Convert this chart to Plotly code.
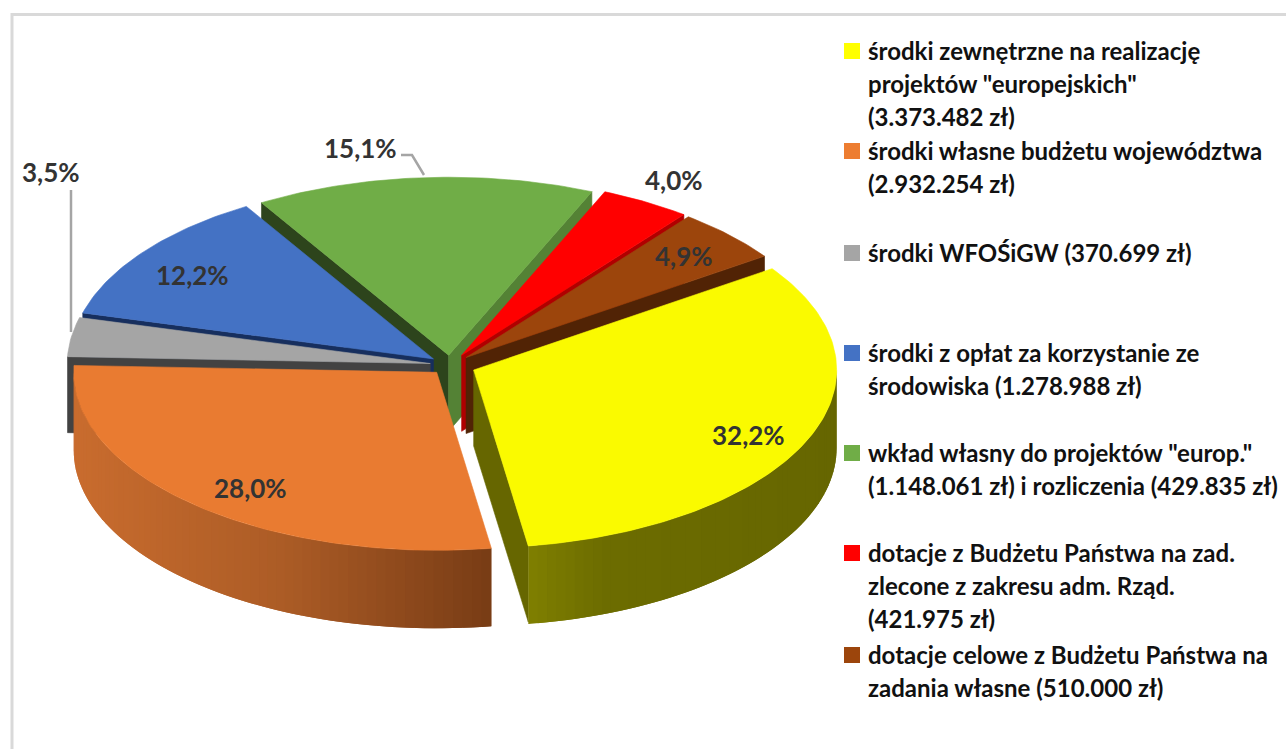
import math
import plotly.graph_objects as go

# ---- data ----
categories = ["środki zewnętrzne", "środki własne budżetu", "środki WFOŚiGW", "środki z opłat",
              "wkład własny i rozliczenia", "dotacje zlecone", "dotacje celowe"]
amounts = [3373482, 2932254, 370699, 1278988, 1577896, 421975, 510000]
pct_labels = ["32,2%", "28,0%", "3,5%", "12,2%", "15,1%", "4,0%", "4,9%"]
legend_lines = [
    ["środki zewnętrzne na realizację", "projektów \"europejskich\"", "(3.373.482 zł)"],
    ["środki własne budżetu województwa", "(2.932.254 zł)"],
    ["środki WFOŚiGW (370.699 zł)"],
    ["środki z opłat za korzystanie ze", "środowiska (1.278.988 zł)"],
    ["wkład własny do projektów \"europ.\"", "(1.148.061 zł) i rozliczenia (429.835 zł)"],
    ["dotacje z Budżetu Państwa na zad.", "zlecone z zakresu adm. Rząd.", "(421.975 zł)"],
    ["dotacje celowe z Budżetu Państwa na", "zadania własne (510.000 zł)"],
]

# ---- styling and layout ----
explode = [0.071, 0.055, 0.055, 0.057, 0.055, 0.063, 0.061]
top_colors = ["#FAFA00", "#E97B31", "#A5A5A5", "#4472C4", "#70AD47", "#FF0000", "#9C450C"]
key_colors = ["#FFFF00", "#ED7D31", "#A5A5A5", "#4472C4", "#70AD47", "#FF0000", "#9C450C"]
cut_colors = ["#666600", "#7A3D16", "#424242", "#172F5E", None, "#B00000", "#512305"]
cut_start_colors = {4: "#2D441C"}   # left wall of the green slice
cut_end_colors = {4: "#548235"}     # right wall of the green slice
wall_stops = {0: [(0.0, (127, 127, 0)), (0.25, (108, 108, 0)), (1.0, (102, 102, 0))],
              1: [(0.0, (201, 108, 46)), (0.5, (172, 92, 38)), (1.0, (120, 60, 21))]}
paint_order = [4, 3, 2, 5, 6, 1, 0]
START_DEG, RX, RY, CX, CY = 34.7, 363, 178, 450, 365
CUT_DEPTH, RIM_DEPTH = 76, 78
label_xy = [(748, 435), (250, 488), (51, 172), (192, 275), (360, 148), (674, 180), (684, 256)]
legend_y = [[51, 84, 117], [151, 184], [253], [353, 386], [453, 486], [553, 586, 619], [655, 688]]
KEY_X, TEXT_X, TEXT_DY = 852, 866, -1
TEXT_FONT = "Lato"

total = sum(amounts)
spans = [a / total * 360 for a in amounts]
bounds, ang = [], START_DEG
for s in spans:
    bounds.append((ang, ang - s))
    ang -= s


def apex(i):
    mid = math.radians(sum(bounds[i]) / 2)
    return CX + explode[i] * RX * math.cos(mid), CY - explode[i] * RY * math.sin(mid)


def rim(i, deg):
    ax, ay = apex(i)
    return ax + RX * math.cos(math.radians(deg)), ay - RY * math.sin(math.radians(deg))


def poly(fig, pts, color, line_w=0.6):
    xs = [p[0] for p in pts] + [pts[0][0]]
    ys = [p[1] for p in pts] + [pts[0][1]]
    fig.add_trace(go.Scatter(x=xs, y=ys, mode="lines", fill="toself", fillcolor=color,
                             line=dict(color=color, width=line_w), hoverinfo="skip", showlegend=False))


def lerp_color(stops, t):
    for (t0, c0), (t1, c1) in zip(stops, stops[1:]):
        if t <= t1:
            f = (t - t0) / (t1 - t0)
            return "rgb(%d,%d,%d)" % tuple(round(a + (b - a) * f) for a, b in zip(c0, c1))
    return "rgb(%d,%d,%d)" % stops[-1][1]


fig = go.Figure()

for i in paint_order:
    a1, a2 = bounds[i]
    ax, ay = apex(i)
    # cut faces that look towards the viewer
    if math.sin(math.radians(a1 + 90)) < 0:
        x, y = rim(i, a1)
        poly(fig, [(ax, ay), (x, y), (x, y + CUT_DEPTH), (ax, ay + CUT_DEPTH)],
             cut_start_colors.get(i, cut_colors[i]))
    if math.sin(math.radians(a2 - 90)) < 0:
        x, y = rim(i, a2)
        poly(fig, [(ax, ay), (x, y), (x, y + CUT_DEPTH), (ax, ay + CUT_DEPTH)],
             cut_end_colors.get(i, cut_colors[i]))
    # outer wall, in overlapping strips painted in sequence to carry the shading
    if i in wall_stops:
        lo, hi = max(a2, -180.0), min(a1, 0.0)
        n = max(2, int((hi - lo) / 1.5))
        degs = [lo + (hi - lo) * k / n for k in range(n + 1)]
        xa, xb = rim(i, lo)[0], rim(i, hi)[0]
        xmin, xmax = min(xa, xb), max(xa, xb)
        for k in range(n):
            seg = [rim(i, degs[j]) for j in range(k, min(k + 3, n + 1))]
            t = ((seg[0][0] + seg[1][0]) / 2 - xmin) / (xmax - xmin)
            poly(fig, seg + [(p[0], p[1] + RIM_DEPTH) for p in reversed(seg)],
                 lerp_color(wall_stops[i], t), line_w=0)
    # top face
    m = max(3, int((a1 - a2) / 1.0))
    arc = [rim(i, a1 + (a2 - a1) * k / m) for k in range(m + 1)]
    poly(fig, [(ax, ay)] + arc, top_colors[i])

# legend keys
fig.add_trace(go.Scatter(x=[KEY_X] * len(key_colors), y=[ys[0] for ys in legend_y], mode="markers",
                         marker=dict(symbol="square", size=16, color=key_colors, line=dict(width=0)),
                         text=categories, hoverinfo="text", showlegend=False))

annotations = []
for txt, (x, y) in zip(pct_labels, label_xy):
    annotations.append(dict(x=x, y=y, text=txt, showarrow=False, xanchor="center", yanchor="middle",
                            font=dict(family=TEXT_FONT, size=26, color="#333333", weight=700)))
for lines, ys in zip(legend_lines, legend_y):
    for line, y in zip(lines, ys):
        annotations.append(dict(x=TEXT_X, y=y + TEXT_DY, text=line, showarrow=False, xanchor="left",
                                yanchor="middle",
                                font=dict(family=TEXT_FONT, size=24, color="#111111", weight=700)))

shapes = [
    dict(type="rect", x0=12, y0=14.5, x1=1320, y1=800, line=dict(color="#D9D9D9", width=3), layer="below"),
    dict(type="path", path="M 401 155 L 412 155 L 424 175", line=dict(color="#A5A5A5", width=2.5)),
    dict(type="line", x0=71, y0=190, x1=71, y1=332, line=dict(color="#A5A5A5", width=2.5), layer="below"),
]

fig.update_layout(
    width=1286, height=749, margin=dict(l=0, r=0, t=0, b=0),
    paper_bgcolor="white", plot_bgcolor="white", showlegend=False,
    xaxis=dict(range=[0, 1286], visible=False, fixedrange=True),
    yaxis=dict(range=[749, 0], visible=False, fixedrange=True),
    annotations=annotations, shapes=shapes,
)
fig.write_html("out.html", config=dict(displayModeBar=False),
               post_script="document.body.style.margin='0';document.body.style.overflow='hidden';")
